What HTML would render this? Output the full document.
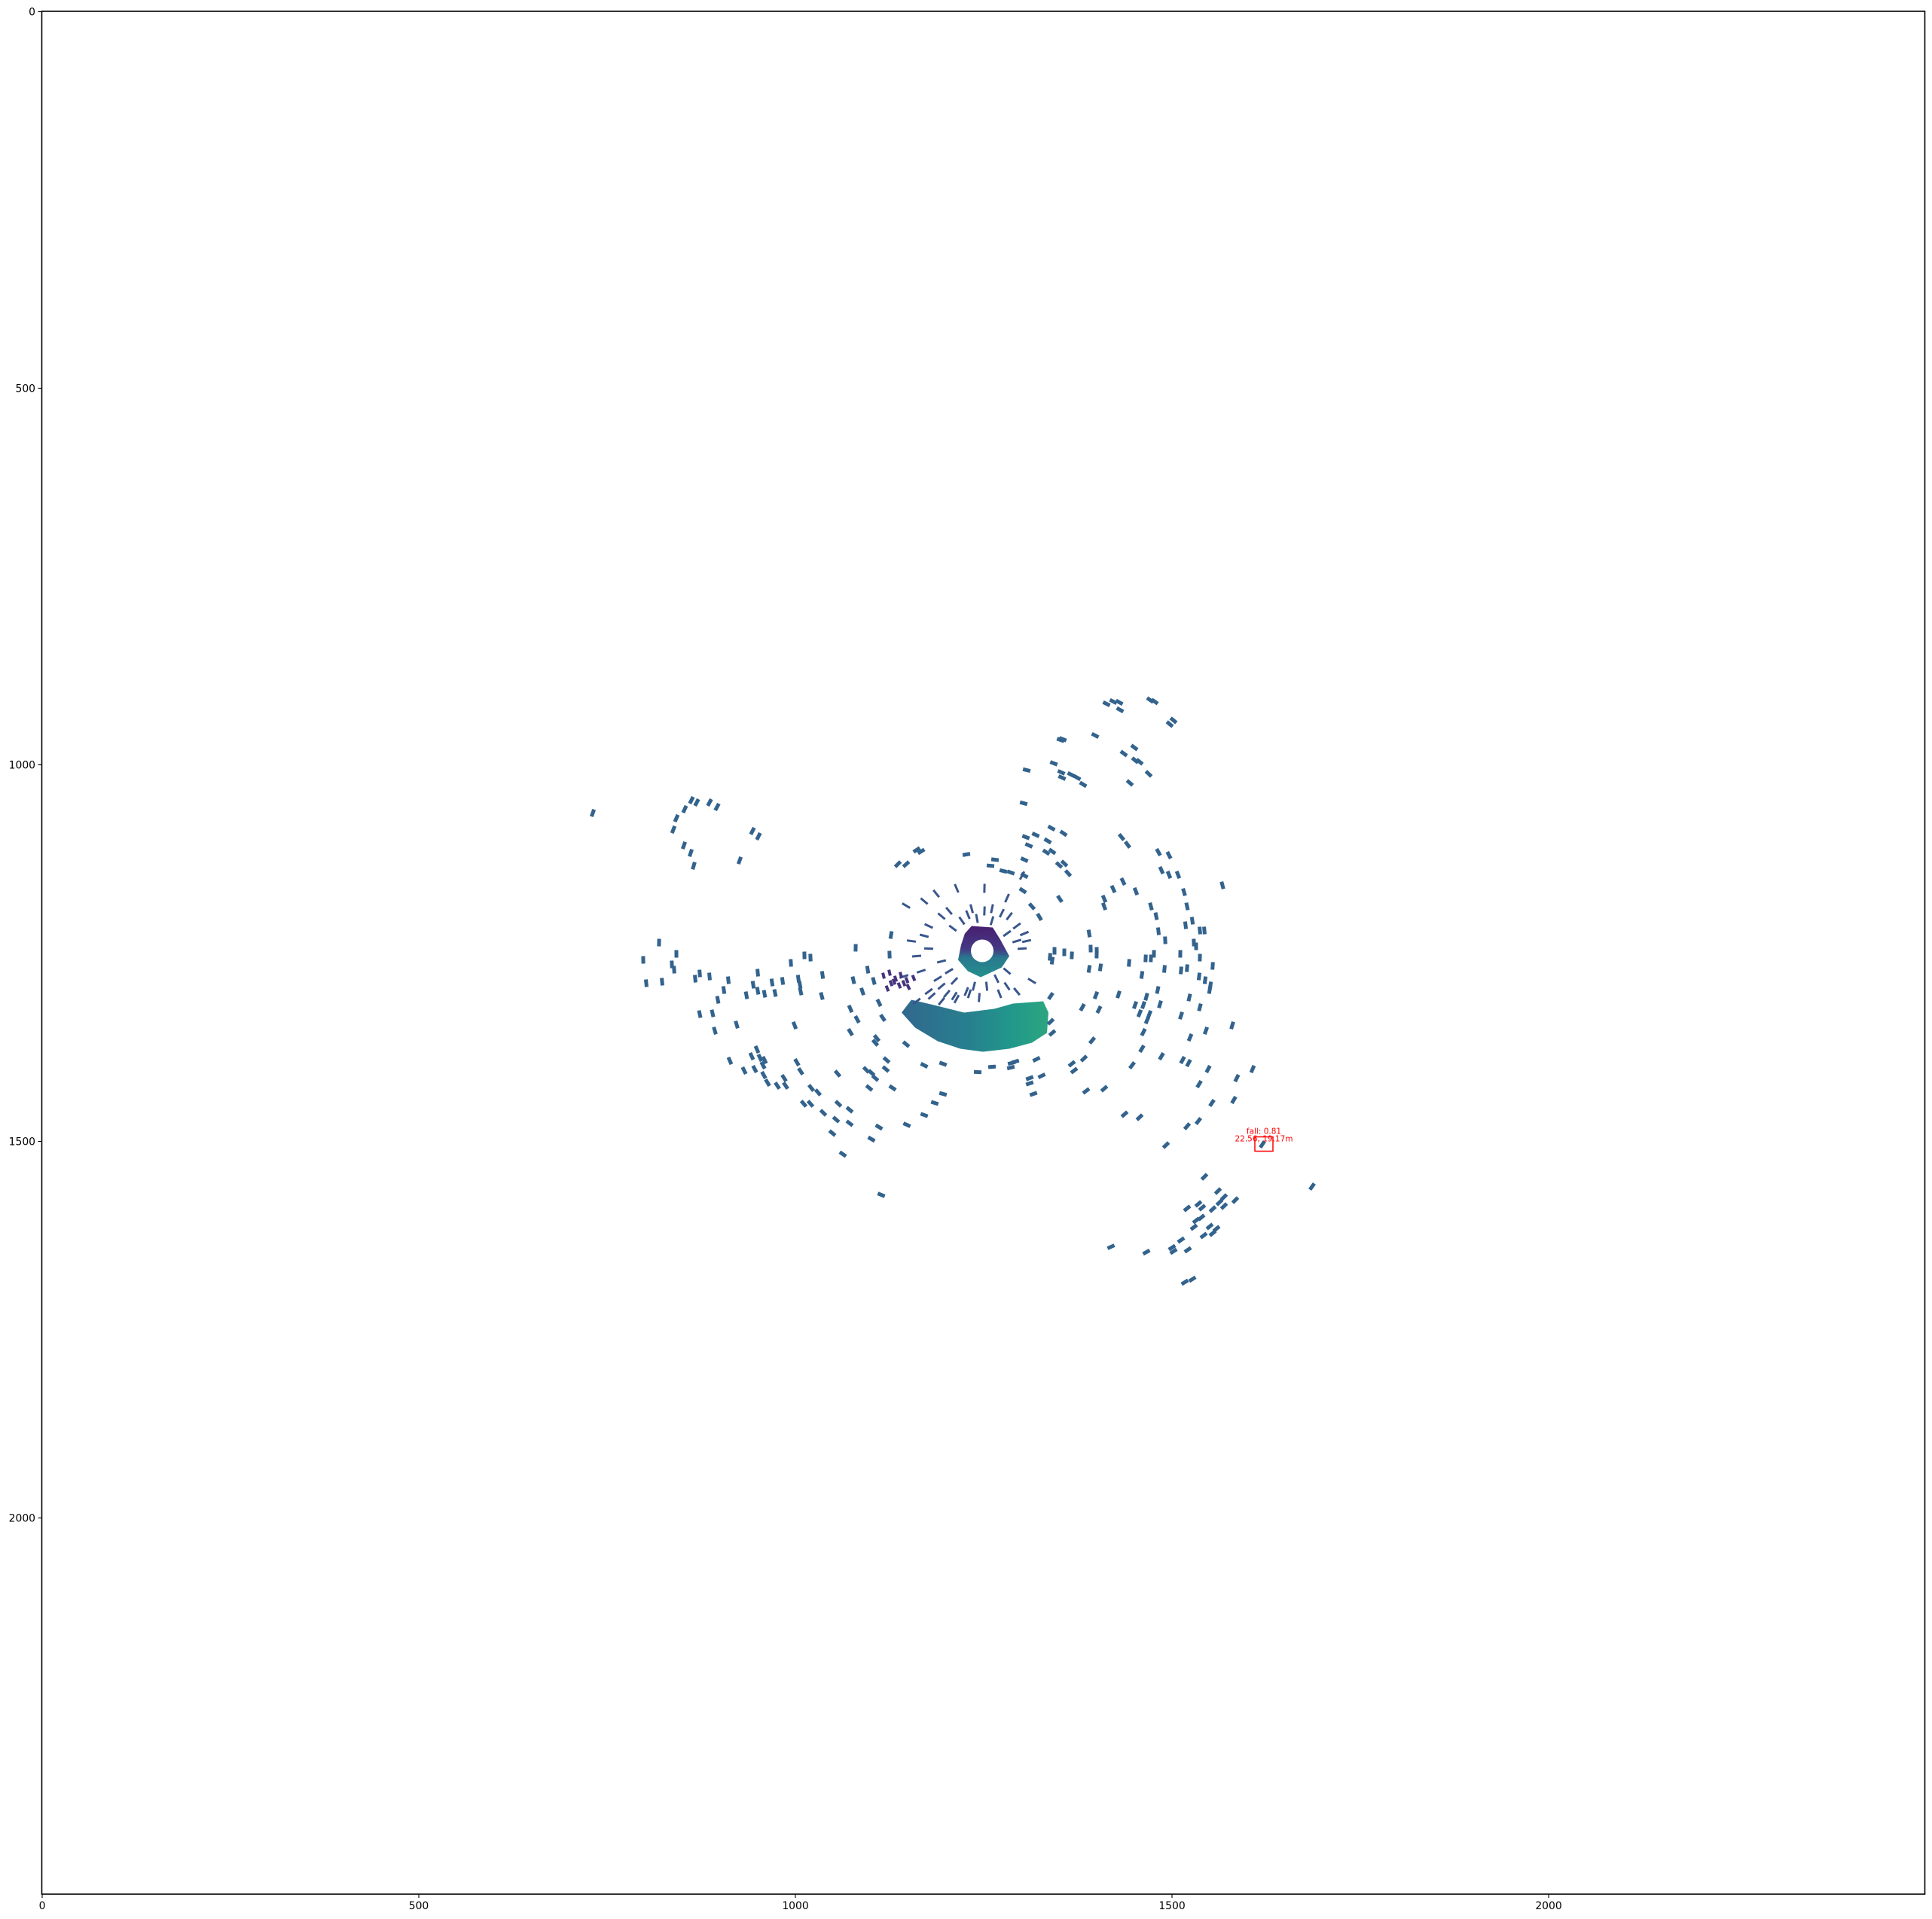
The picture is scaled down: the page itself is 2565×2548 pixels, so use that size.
<!DOCTYPE html>
<html><head><meta charset="utf-8"><style>
html,body{margin:0;padding:0;background:#fff;}
svg{display:block;}
text{font-family:"DejaVu Sans","Liberation Sans",sans-serif;}
</style></head><body>
<svg id="chart" xmlns="http://www.w3.org/2000/svg" width="2565" height="2548" viewBox="0 0 2565 2548">
<defs>
<linearGradient id="ringGrad" x1="0" y1="0" x2="0" y2="1">
<stop offset="0" stop-color="#481f70"/><stop offset="0.45" stop-color="#443983"/><stop offset="0.62" stop-color="#2a788e"/><stop offset="1" stop-color="#23908c"/>
</linearGradient>
<linearGradient id="arcGrad" x1="0" y1="0" x2="1" y2="0">
<stop offset="0" stop-color="#31688e"/><stop offset="0.45" stop-color="#277f8e"/><stop offset="0.75" stop-color="#21988b"/><stop offset="1" stop-color="#2ba67f"/>
</linearGradient>
</defs>
<rect x="55.5" y="15" width="2500" height="2500" fill="#fff"/>
<g id="marks"></g>
<g id="det"></g>
<rect x="55.5" y="15" width="2500" height="2500" fill="none" stroke="#000" stroke-width="1.6"/>
<g id="ticks"></g>
</svg>
<script>
const xTicks=[0,500,1000,1500,2000];
const yTicks=[0,500,1000,1500,2000];
const ptX=[731,862,869,886,896,853,842,838,852,861,865,943,951,926,819,798,842,836,839,802,823,867,873,886,911,905,897,873,890,893,922,950,944,950,959,969,973,983,994,1012,1020,1004,1006,1007,935,999,1036,1035,1080,913,942,949,953,959,932,946,957,958,963,976,985,987,1002,1007,1021,1030,1011,1020,1037,1057,1054,1072,1072,1049,1056,1094,1101,1106,1098,1129,1111,1101,1063,1114,1120,1121,1148,1171,1185,1196,1171,1196,1073,1082,1073,1108,1106,1116,1111,1147,1077,1089,1104,1096,1125,1127,1161,1167,1136,1147,
1413,1422,1430,1431,1471,1477,1497,1502,1398,1352,1355,1450,1436,1451,1457,1469,1444,1374,1382,1366,1353,1354,1343,1307,1303,1340,1356,1319,1306,1335,1310,1341,1333,1350,1357,1362,1304,1304,1286,1276,1259,1265,1227,1314,1324,1302,1351,1433,1441,1482,1496,1486,1496,1508,1435,1422,1452,1516,1567,1410,1410,1472,1520,1479,1527,1518,1482,1537,1543,1390,1491,1529,1532,1392,1400,1400,1344,1357,1367,1338,1341,1476,1465,1472,1511,1537,1443,1554,1405,1390,1490,1512,1520,1460,1536,1544,1551,1550,1481,1399,1429,1466,1523,1451,1462,1484,1537,1381,1403,1457,1470,1512,1467,1580,1545,1462,1394,1524,1460,1339,1341,1339,
1242,1261,1286,1287,1292,1311,1311,1327,1316,1320,1367,1370,1383,1447,1386,1410,1486,1514,1522,1548,1586,1607,1536,1582,1553,1437,1457,1535,1520,1492,1620,1543,1686,1561,1569,1584,1535,1569,1540,1520,1563,1554,1539,1532,1529,1550,1559,1554,1542,1512,1500,1502,1521,1419,1466,1517,1527];
const ptY=[1064,1047,1050,1050,1056,1059,1071,1086,1107,1117,1134,1088,1095,1127,1236,1259,1251,1265,1272,1290,1288,1284,1277,1281,1286,1299,1312,1331,1330,1353,1345,1276,1292,1300,1304,1289,1303,1287,1263,1253,1256,1284,1292,1301,1306,1346,1279,1307,1243,1393,1387,1378,1389,1392,1406,1404,1399,1412,1422,1426,1416,1426,1395,1407,1429,1435,1450,1450,1462,1450,1471,1458,1476,1489,1410,1405,1409,1416,1429,1429,1481,1497,1517,1571,1404,1392,1478,1465,1449,1437,1399,1397,1324,1338,1355,1363,1369,1336,1316,1371,1286,1301,1287,1272,1252,1226,1113,1115,1132,1132,
919,916,917,927,914,916,946,941,961,967,966,977,985,994,996,1012,1024,1017,1026,1013,1010,1017,998,1007,1051,1084,1091,1093,1096,1101,1107,1115,1116,1133,1131,1144,1126,1147,1143,1141,1134,1126,1119,1188,1202,1167,1178,1096,1106,1116,1120,1140,1146,1146,1155,1165,1168,1169,1160,1178,1188,1188,1188,1201,1207,1213,1221,1220,1220,1224,1233,1236,1241,1244,1247,1252,1247,1249,1253,1255,1260,1251,1257,1257,1251,1256,1263,1267,1269,1271,1271,1273,1270,1279,1281,1286,1293,1299,1299,1306,1305,1308,1309,1319,1319,1318,1322,1322,1325,1330,1331,1333,1339,1346,1353,1355,1366,1362,1377,1341,1356,1307,
1408,1401,1402,1396,1394,1416,1423,1413,1437,1391,1397,1406,1390,1399,1433,1430,1387,1392,1396,1404,1416,1404,1424,1445,1449,1464,1468,1473,1480,1505,1504,1547,1560,1566,1574,1578,1583,1586,1588,1589,1581,1590,1601,1605,1614,1613,1616,1622,1625,1631,1641,1646,1644,1640,1647,1687,1683];
const rayX=[1177,1194,1204,1234,1251,1261,1274,1281,1294,1301,1274,1281,1267,1281,1254,1237,1227,1211,1194,1177,1204,1194,1167,1161,1177,1171,1154,1147,1171,1187,1214,1251,1281,1301,1194,1181,1161,1211,1144,1294,1304,1307,1314,1294,1221,1241,1261,1231,1201,1189,1271,1244,1214,1284,1229,1209];
const rayY=[1214,1201,1194,1191,1194,1191,1197,1224,1234,1244,1251,1274,1284,1294,1294,1294,1301,1287,1294,1301,1274,1261,1274,1254,1244,1227,1234,1187,1181,1171,1164,1164,1177,1147,1314,1307,1314,1307,1281,1214,1224,1234,1287,1301,1207,1204,1207,1304,1304,1284,1304,1309,1311,1201,1199,1217];
const purpX=[1117,1125,1133,1140,1148,1127,1138,1150,1157,1122,1131,1144];
const purpY=[1280,1276,1284,1279,1286,1290,1293,1295,1283,1297,1288,1290];
const ringX=[1225,1234,1262,1272,1284,1274,1246,1229,1216,1220];
const ringY=[1224,1214,1216,1232,1254,1269,1282,1274,1259,1239];
const holeX=1248, holeY=1247, holeR=15;
const arcX=[1141,1154,1184,1224,1264,1289,1329,1336,1334,1314,1284,1249,1219,1189,1159];
const arcY=[1329,1312,1319,1329,1324,1317,1314,1329,1356,1369,1377,1381,1377,1367,1349];
const detX=[1610,1634], detY=[1494,1513];
const detLabel1="fall: 0.81", detLabel2="22.56, 19.17m";

const NS="http://www.w3.org/2000/svg";
const X=v=>56+v, Y=v=>15.5+v;
const marks=document.getElementById('marks');
const cx=1249, cy=1247;
function mk(tag,attrs,parent){const e=document.createElementNS(NS,tag);for(const k in attrs)e.setAttribute(k,attrs[k]);parent.appendChild(e);return e;}

const arc=mk('polygon',{points:arcX.map((x,i)=>X(x)+','+Y(arcY[i])).join(' '),fill:'url(#arcGrad)'},marks);


const ring=mk('polygon',{points:ringX.map((x,i)=>X(x)+','+Y(ringY[i])).join(' '),fill:'url(#ringGrad)'},marks);


const hole=mk('circle',{cx:X(holeX),cy:Y(holeY),r:holeR,fill:'#fff'},marks);



function drawPts(xs,ys,w,h,fill,name,radial){
  xs.forEach((x,i)=>{
    const y=ys[i];
    const ang=Math.atan2(y-cy,x-cx)*180/Math.PI+(radial?0:90);
    const r=mk('rect',{x:X(x)-w/2,y:Y(y)-h/2,width:w,height:h,fill:fill,transform:`rotate(${ang.toFixed(1)} ${X(x)} ${Y(y)})`},marks);
    
    
  });
}
drawPts(ptX,ptY,10,5,'#33638d','lidar-point',false);
drawPts(rayX,rayY,12,3,'#39568c','near-ray-point',true);
drawPts(purpX,purpY,8,4,'#46337e','low-point',false);

const det=document.getElementById('det');
const box=mk('rect',{x:X(detX[0]),y:Y(detY[0]),width:detX[1]-detX[0],height:detY[1]-detY[0],fill:'none',stroke:'#ff0000','stroke-width':1.5},det);


const midX=X((detX[0]+detX[1])/2);
const t1=mk('text',{x:midX,y:Y(detY[0])-4,'text-anchor':'middle','font-size':'10.5',fill:'#ff0000'},det);
t1.textContent=detLabel1;


const t2=mk('text',{x:midX,y:Y(detY[0])+6,'text-anchor':'middle','font-size':'10.5',fill:'#ff0000'},det);
t2.textContent=detLabel2;



const tk=document.getElementById('ticks');
xTicks.forEach(v=>{
  const l=mk('line',{x1:X(v),x2:X(v),y1:2515,y2:2520,stroke:'#000','stroke-width':1.1},tk);
  
  
  const t=mk('text',{x:X(v),y:2535,'text-anchor':'middle','font-size':'13.9',fill:'#000'},tk);
  t.textContent=String(v);
  
  
});
yTicks.forEach(v=>{
  const l=mk('line',{x1:50.5,x2:55.5,y1:Y(v),y2:Y(v),stroke:'#000','stroke-width':1.1},tk);
  
  
  const t=mk('text',{x:47,y:Y(v)+5,'text-anchor':'end','font-size':'13.9',fill:'#000'},tk);
  t.textContent=String(v);
  
  
});
</script>
</body></html>
